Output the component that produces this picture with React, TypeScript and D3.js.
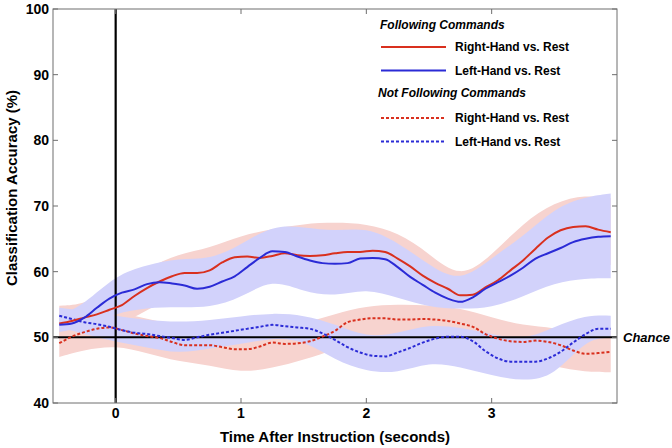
import React from 'react';
import * as d3 from 'd3';

// ---- data ----
const time = [-0.45, -0.35, -0.25, -0.15, -0.05, 0.05, 0.15, 0.25, 0.35, 0.45, 0.55, 0.65, 0.75, 0.85, 0.95,
  1.05, 1.15, 1.25, 1.35, 1.45, 1.55, 1.65, 1.75, 1.85, 1.95, 2.05, 2.15, 2.25, 2.35, 2.45, 2.55, 2.65, 2.75,
  2.85, 2.95, 3.05, 3.15, 3.25, 3.35, 3.45, 3.55, 3.65, 3.75, 3.85, 3.95];

const followRight = [52.1, 52.5, 53.0, 53.5, 54.2, 54.9, 56.3, 57.5, 58.5, 59.3, 59.8, 59.8, 60.2, 61.4, 62.2,
  62.3, 62.1, 62.4, 62.8, 62.5, 62.4, 62.5, 62.8, 63.0, 63.0, 63.2, 63.0, 62.0, 60.8, 59.4, 58.3, 57.4, 56.4,
  56.5, 57.6, 58.7, 60.2, 61.7, 63.5, 65.2, 66.3, 66.8, 66.9, 66.4, 66.0];

const followLeft = [51.9, 52.1, 53.0, 54.5, 55.9, 56.8, 57.3, 58.1, 58.4, 58.2, 57.9, 57.4, 57.7, 58.5, 59.3,
  60.7, 62.1, 63.1, 63.0, 62.3, 61.7, 61.3, 61.2, 61.3, 62.0, 62.1, 61.9, 60.7, 59.2, 58.0, 56.8, 55.9, 55.4,
  56.1, 57.4, 58.4, 59.4, 60.6, 62.0, 62.8, 63.6, 64.5, 65.0, 65.3, 65.4];

const notFollowRight = [49.1, 50.1, 50.8, 51.3, 51.5, 51.1, 50.6, 50.2, 49.9, 49.3, 48.8, 48.8, 48.8, 48.5, 48.2,
  48.2, 48.6, 49.2, 49.0, 49.1, 49.4, 50.1, 51.0, 52.3, 52.7, 52.9, 52.9, 52.7, 52.7, 52.8, 52.7, 52.5, 52.1,
  51.6, 50.5, 49.8, 49.4, 49.3, 49.5, 49.3, 48.8, 48.0, 47.5, 47.6, 47.8];

const notFollowLeft = [53.3, 52.8, 52.3, 52.0, 51.6, 51.1, 50.7, 50.5, 50.2, 49.9, 49.6, 50.0, 50.4, 50.7, 51.0,
  51.3, 51.6, 51.9, 51.7, 51.5, 51.3, 50.6, 49.6, 48.5, 47.7, 47.2, 47.1, 47.7, 48.4, 49.2, 49.8, 50.1, 50.1,
  49.4, 47.9, 46.8, 46.3, 46.3, 46.3, 46.8, 47.8, 49.2, 50.5, 51.3, 51.3];

const bandTime = [-0.45, -0.25, 0, 0.25, 0.5, 0.75, 1.0, 1.25, 1.5, 1.75, 2.0, 2.25, 2.5, 2.75, 3.0, 3.25, 3.5, 3.75, 3.95];

const followRightLo = [49.5, 50.5, 51.5, 54.2, 56.5, 57.0, 58.5, 59.0, 58.5, 58.5, 59.0, 58.5, 56.0, 55.0, 55.5, 56.0, 60.5, 61.5, 61.0];
const followRightHi = [54.8, 55.0, 57.5, 60.5, 62.7, 63.6, 65.5, 66.5, 67.3, 67.5, 67.3, 66.0, 62.8, 58.8, 62.5, 67.4, 70.6, 71.7, 71.2];

const followLeftLo = [50.8, 51.5, 53.7, 54.5, 54.6, 54.5, 56.0, 59.0, 56.9, 56.2, 57.5, 56.0, 54.6, 54.3, 54.5, 56.2, 58.3, 59.0, 59.0];
const followLeftHi = [53.3, 55.0, 59.5, 61.0, 62.1, 61.8, 64.1, 67.1, 66.8, 66.1, 66.8, 64.5, 61.0, 58.3, 62.1, 65.3, 69.7, 71.4, 71.9];

const notFollowRightLo = [47.0, 48.1, 48.8, 47.6, 46.3, 45.8, 44.6, 45.3, 46.6, 48.1, 50.2, 50.5, 50.5, 49.5, 47.5, 46.8, 45.5, 44.7, 44.7];
const notFollowRightHi = [51.3, 53.3, 54.0, 52.8, 51.7, 51.7, 51.7, 52.8, 52.0, 53.6, 54.8, 55.0, 54.9, 54.5, 53.0, 51.8, 51.5, 50.3, 51.0];

const notFollowLeftLo = [51.5, 50.5, 49.3, 48.5, 47.5, 48.3, 49.0, 49.9, 49.6, 46.5, 44.8, 44.5, 46.3, 45.5, 44.2, 43.3, 44.0, 49.8, 49.9];
const notFollowLeftHi = [54.5, 54.0, 53.3, 52.6, 52.3, 52.6, 53.2, 53.7, 53.4, 52.0, 50.0, 50.6, 52.0, 51.5, 50.5, 49.5, 51.6, 53.4, 53.3];

const xTicks = [0, 1, 2, 3];
const yTicks = [40, 50, 60, 70, 80, 90, 100];

const legendItems = [
  { group: 'Following Commands', label: 'Right-Hand vs. Rest', color: '#d9301e', dashed: false },
  { group: 'Following Commands', label: 'Left-Hand vs. Rest', color: '#2b2bd6', dashed: false },
  { group: 'Not Following Commands', label: 'Right-Hand vs. Rest', color: '#d9301e', dashed: true },
  { group: 'Not Following Commands', label: 'Left-Hand vs. Rest', color: '#2b2bd6', dashed: true },
];

const RED = '#d9301e';
const BLUE = '#2b2bd6';
const PINK = '#f7d3cf';
const LAV = '#d2d2fb';

export default function App() {
  const W = 672, H = 448;
  const left = 53, right = 617, top = 9, bottom = 403;
  const x = d3.scaleLinear().domain([-0.5, 4]).range([left, right]);
  const y = d3.scaleLinear().domain([40, 100]).range([bottom, top]);

  const line = (vals: number[]) =>
    d3.line<number>().x((_, i) => x(time[i])).y((d) => y(d)).curve(d3.curveMonotoneX)(vals) || '';
  const band = (lo: number[], hi: number[]) =>
    d3.area<number>().x((_, i) => x(bandTime[i])).y0((_, i) => y(lo[i])).y1((_, i) => y(hi[i])).curve(d3.curveBasis)(bandTime) || '';

  const font = 'Arial, "Liberation Sans", Helvetica, sans-serif';
  const axisColor = '#6e6e6e';
  const tickLen = 5;

  return (
    <svg width={W} height={H} style={{ position: 'absolute', left: 0, top: 0, background: '#fff' }} fontFamily={font}>
      {/* bands */}
      <path d={band(followRightLo, followRightHi)} fill={PINK} />
      <path d={band(notFollowRightLo, notFollowRightHi)} fill={PINK} />
      <path d={band(followLeftLo, followLeftHi)} fill={LAV} />
      <path d={band(notFollowLeftLo, notFollowLeftHi)} fill={LAV} />

      {/* reference lines */}
      <line x1={left} x2={right} y1={y(50)} y2={y(50)} stroke="#000" strokeWidth={2} />
      <line x1={x(0)} x2={x(0)} y1={top} y2={bottom} stroke="#000" strokeWidth={2.2} />

      {/* curves */}
      <path d={line(notFollowRight)} fill="none" stroke={RED} strokeWidth={2} strokeDasharray="3,2" />
      <path d={line(notFollowLeft)} fill="none" stroke={BLUE} strokeWidth={2} strokeDasharray="3,2" />
      <path d={line(followRight)} fill="none" stroke={RED} strokeWidth={2} />
      <path d={line(followLeft)} fill="none" stroke={BLUE} strokeWidth={2} />

      {/* axes box */}
      <rect x={left} y={top} width={right - left} height={bottom - top} fill="none" stroke={axisColor} strokeWidth={1} />
      {yTicks.map((t) => (
        <g key={'y' + t}>
          <line x1={left} x2={left + tickLen} y1={y(t)} y2={y(t)} stroke={axisColor} />
          <line x1={right} x2={right - tickLen} y1={y(t)} y2={y(t)} stroke={axisColor} />
          <text x={left - 4} y={y(t)} dy="0.36em" textAnchor="end" fontSize={14} fontWeight="bold">{t}</text>
        </g>
      ))}
      {xTicks.map((t) => (
        <g key={'x' + t}>
          <line x1={x(t)} x2={x(t)} y1={bottom} y2={bottom - tickLen} stroke={axisColor} />
          <line x1={x(t)} x2={x(t)} y1={top} y2={top + tickLen} stroke={axisColor} />
          <text x={x(t)} y={bottom + 10} dy="0.36em" textAnchor="middle" fontSize={14} fontWeight="bold">{t}</text>
        </g>
      ))}

      <text x={(left + right) / 2} y={442} textAnchor="middle" fontSize={15} fontWeight="bold">Time After Instruction (seconds)</text>
      <text transform={`translate(17,${(top + bottom) / 2 - 18}) rotate(-90)`} textAnchor="middle" fontSize={15} fontWeight="bold">Classification Accuracy (%)</text>

      <text x={623} y={y(50)} dy="0.36em" fontSize={13} fontWeight="bold" fontStyle="italic">Chance</text>

      {/* legend */}
      {legendItems.map((it, i) => {
        const gi = i < 2 ? 0 : 1;
        const rowY = 47 + i * 23.5 + gi * 1 + (gi ? 23 : 0);
        const headerY = gi === 0 ? 25 : 93;
        return (
          <g key={'l' + i}>
            {i % 2 === 0 && (
              <text x={gi === 0 ? 380 : 378} y={headerY} dy="0.36em" fontSize={12} fontWeight="bold" fontStyle="italic">{it.group}</text>
            )}
            <line x1={381} x2={446} y1={rowY} y2={rowY} stroke={it.color} strokeWidth={2} strokeDasharray={it.dashed ? '3,2' : undefined} />
            <text x={455} y={rowY} dy="0.36em" fontSize={12} fontWeight="bold">{it.label}</text>
          </g>
        );
      })}
    </svg>
  );
}
